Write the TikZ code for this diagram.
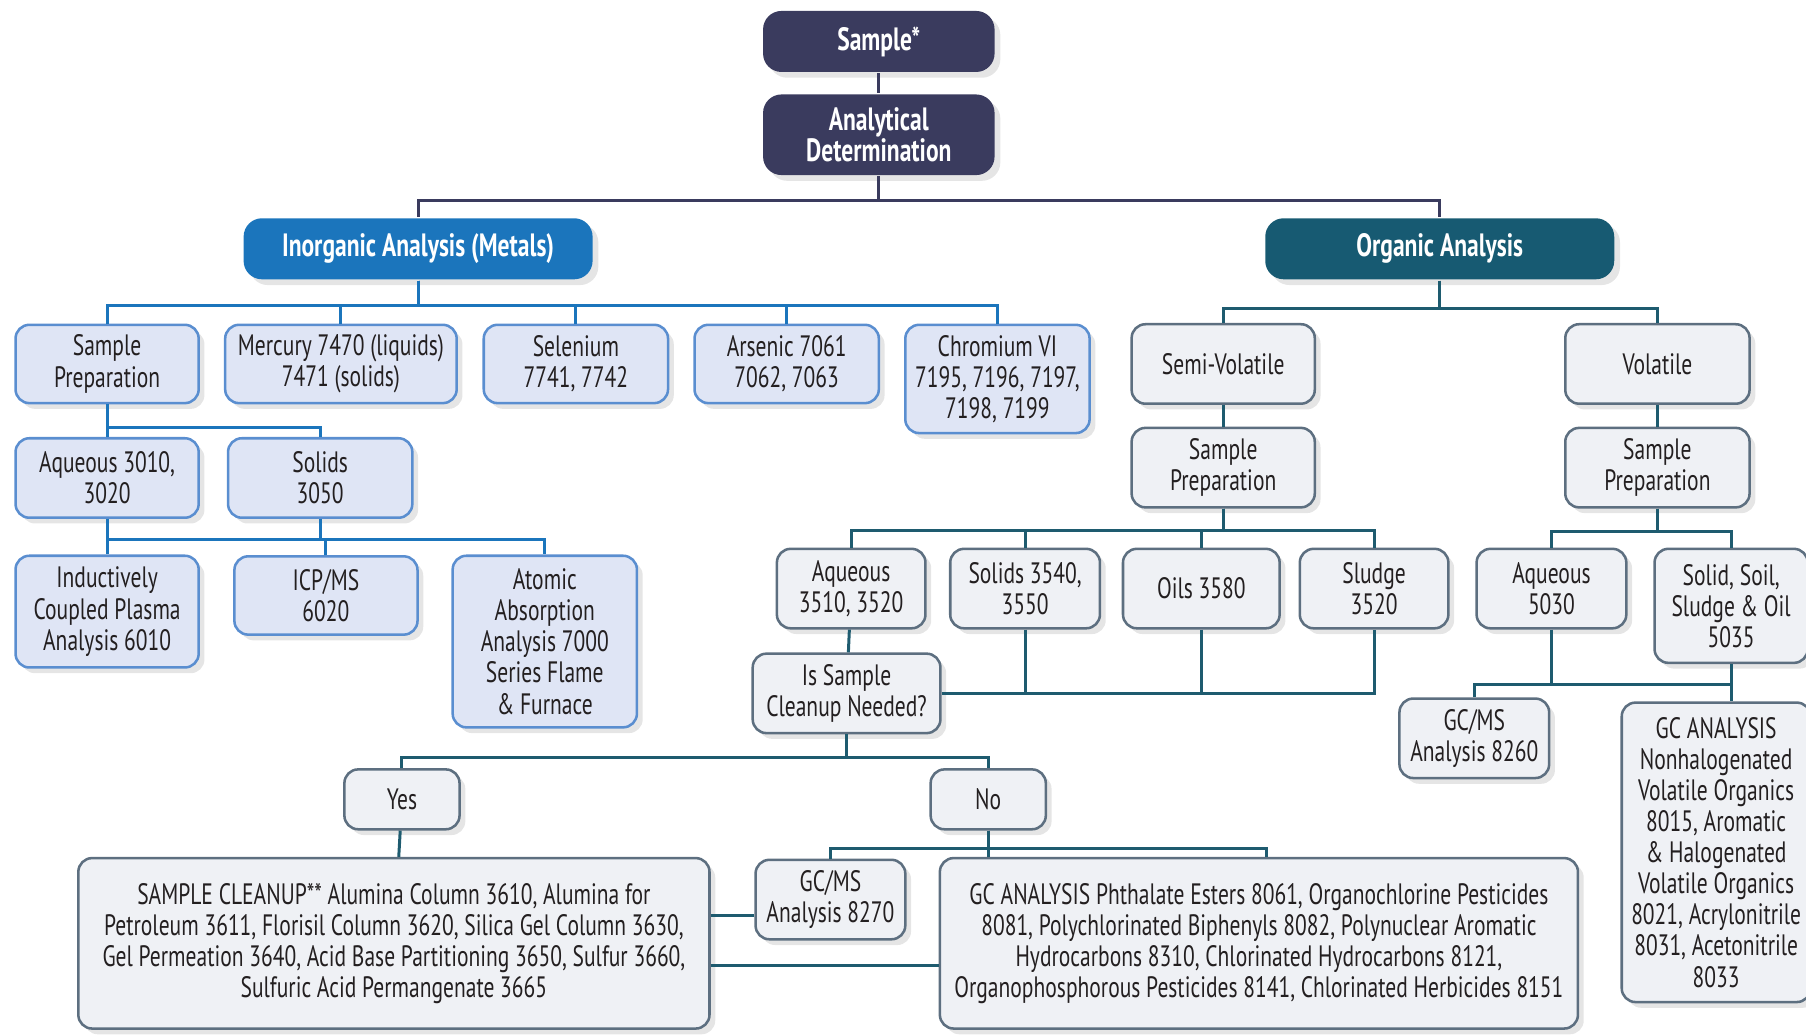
\documentclass[tikz,border=0pt]{standalone}
\usepackage{fontspec}
\setmainfont{PT Sans}[FakeStretch=0.73]
\usetikzlibrary{shadows}

\definecolor{navy}{HTML}{3A3B5E}
\definecolor{metalblue}{HTML}{1B75BC}
\definecolor{metalfill}{HTML}{DFE5F5}
\definecolor{metaledge}{HTML}{5A8ED0}
\definecolor{orgteal}{HTML}{175A72}
\definecolor{orgfill}{HTML}{EFF1F5}
\definecolor{orgedge}{HTML}{5D6F80}
\definecolor{orgline}{HTML}{1E5B6F}
\definecolor{inktext}{HTML}{231F20}

\tikzset{
  box/.style={rounded corners=6pt, line width=1.1pt, align=center, inner sep=1pt,
    font=\fontsize{12.8}{13.5}\selectfont, text=inktext,
    drop shadow={shadow xshift=2.5pt, shadow yshift=-2.5pt, fill=black!20}},
  headbox/.style={box, rounded corners=8pt, fill=#1, draw=none, text=white,
    font=\fontsize{14}{13.5}\selectfont\bfseries},
  metalbox/.style={box, fill=metalfill, draw=metaledge},
  orgbox/.style={box, fill=orgfill, draw=orgedge},
  dims/.style 2 args={minimum width=#1*0.5pt, minimum height=#2*0.5pt},
  wire/.style={line width=1.3pt, draw=#1},
}

\begin{document}
\begin{tikzpicture}[x=0.5pt, y=-0.5pt]
  \useasboundingbox (0,0) rectangle (1568,899);

  % top of the tree
  \node[headbox=navy, dims={201}{53}] (sample) at (763,36) {Sample*};
  \node[headbox=navy, dims={201}{70}] (analytical) at (763,117) {Analytical\\Determination};
  \node[headbox=metalblue, dims={303}{53}] (inorganic) at (363,216) {Inorganic Analysis (Metals)};
  \node[headbox=orgteal, dims={303}{53}] (organic) at (1250,216) {Organic Analysis};

  % inorganic branch
  \node[metalbox, dims={159}{68}] (sprep1) at (93,316) {Sample\\Preparation};
  \node[metalbox, dims={201}{68}] (mercury) at (296,316) {Mercury 7470 (liquids)\\7471 (solids)};
  \node[metalbox, dims={160}{68}] (selenium) at (500,316) {Selenium\\7741, 7742};
  \node[metalbox, dims={160}{68}] (arsenic) at (683,316) {Arsenic 7061\\7062, 7063};
  \node[metalbox, dims={160}{94}] (chromium) at (866,329) {Chromium VI\\7195, 7196, 7197,\\7198, 7199};
  \node[metalbox, dims={159}{69}] (aq1) at (93,415) {Aqueous 3010,\\3020};
  \node[metalbox, dims={160}{69}] (solids1) at (278,415) {Solids\\3050};
  \node[metalbox, dims={159}{97}] (icp) at (93,531) {Inductively\\Coupled Plasma\\Analysis 6010};
  \node[metalbox, dims={159}{68}] (icpms) at (283,517) {ICP/MS\\6020};
  \node[metalbox, dims={160}{149}] (atomic) at (473,557) {Atomic\\Absorption\\Analysis 7000\\Series Flame\\\& Furnace};

  % organic branch
  \node[orgbox, dims={159}{69}] (semivol) at (1062,316) {Semi-Volatile};
  \node[orgbox, dims={160}{69}] (volatile) at (1439,316) {Volatile};
  \node[orgbox, dims={159}{69}] (sprep2) at (1062,406) {Sample\\Preparation};
  \node[orgbox, dims={160}{69}] (sprep3) at (1439,406) {Sample\\Preparation};
  \node[orgbox, dims={129}{69}] (aq2) at (739,511) {Aqueous\\3510, 3520};
  \node[orgbox, dims={130}{69}] (solids2) at (890,511) {Solids 3540,\\3550};
  \node[orgbox, dims={136}{69}] (oils) at (1043,511) {Oils 3580};
  \node[orgbox, dims={129}{69}] (sludge) at (1193,511) {Sludge\\3520};
  \node[orgbox, dims={130}{69}] (aq3) at (1347,511) {Aqueous\\5030};
  \node[orgbox, dims={133}{99}] (solid3) at (1503,526) {Solid, Soil,\\Sludge \& Oil\\5035};
  \node[orgbox, dims={163}{69}] (cleanq) at (735,602) {Is Sample\\Cleanup Needed?};
  \node[orgbox, dims={100}{52}] (yes) at (349,694) {Yes};
  \node[orgbox, dims={100}{52}] (no) at (858,694) {No};
  \node[orgbox, dims={548}{148}] (cleanup) at (342,819) {SAMPLE CLEANUP** Alumina Column 3610, Alumina for\\Petroleum 3611, Florisil Column 3620, Silica Gel Column 3630,\\Gel Permeation 3640, Acid Base Partitioning 3650, Sulfur 3660,\\Sulfuric Acid Permangenate 3665};
  \node[orgbox, dims={130}{69}] (gcms1) at (721,781) {GC/MS\\Analysis 8270};
  \node[orgbox, dims={554}{148}] (gc1) at (1093,819) {GC ANALYSIS Phthalate Esters 8061, Organochlorine Pesticides\\8081, Polychlorinated Biphenyls 8082, Polynuclear Aromatic\\Hydrocarbons 8310, Chlorinated Hydrocarbons 8121,\\Organophosphorous Pesticides 8141, Chlorinated Herbicides 8151};
  \node[orgbox, dims={130}{69}] (gcms2) at (1280,641) {GC/MS\\Analysis 8260};
  \node[orgbox, dims={164}{260}] (gc2) at (1490,740) {GC ANALYSIS\\Nonhalogenated\\Volatile Organics\\8015, Aromatic\\\& Halogenated\\Volatile Organics\\8021, Acrylonitrile\\8031, Acetonitrile\\8033};

  % connectors
  \draw[wire=navy] (sample) -- (analytical);
  \draw[wire=navy] (analytical.south) -- ++(0,21) -| (inorganic.north);
  \draw[wire=navy] (analytical.south) -- ++(0,21) -| (organic.north);

  \foreach \n in {sprep1,mercury,selenium,arsenic,chromium}
    \draw[wire=metalblue] (inorganic.south) -- ++(0,22) -| (\n.north);
  \foreach \n in {aq1,solids1}
    \draw[wire=metalblue] (sprep1.south) -- ++(0,20) -| (\n.north);
  \foreach \n in {icp,icpms,atomic}
    \draw[wire=metalblue] (aq1.south) -- ++(0,18) -| (\n.north);
  \draw[wire=metalblue] (solids1.south) -- ++(0,18);

  \foreach \n in {semivol,volatile}
    \draw[wire=orgline] (organic.south) -- ++(0,24) -| (\n.north);
  \draw[wire=orgline] (semivol) -- (sprep2);
  \draw[wire=orgline] (volatile) -- (sprep3);
  \foreach \n in {aq2,solids2,oils,sludge}
    \draw[wire=orgline] (sprep2.south) -- ++(0,19) -| (\n.north);
  \draw[wire=orgline] (aq2) -- (cleanq);
  \draw[wire=orgline] (cleanq.east) -| (sludge.south);
  \foreach \n in {solids2,oils}
    \draw[wire=orgline] (\n.south) -- (\n.south |- cleanq.east);
  \foreach \n in {yes,no}
    \draw[wire=orgline] (cleanq.south) -- ++(0,20) -| (\n.north);
  \draw[wire=orgline] (yes) -- (cleanup);
  \draw[wire=orgline] (no.south) -- ++(0,16) -| (gcms1.north);
  \draw[wire=orgline] (no.south) -- ++(0,16) -| ([xshift=3.5pt]gc1.north);
  \draw[wire=orgline] (no.south) -- (no.south |- gc1.north);
  \coordinate (cg) at ([yshift=-7pt]gcms1.west);
  \draw[wire=orgline] (cg) -- (cg -| cleanup.east);
  \coordinate (cc) at ([yshift=-9.5pt]cleanup.east);
  \draw[wire=orgline] (cc) -- (cc -| gc1.west);

  \foreach \n in {aq3,solid3}
    \draw[wire=orgline] (sprep3.south) -- ++(0,20) -| (\n.north);
  \coordinate (vbus) at ([yshift=-9pt]solid3.south);
  \draw[wire=orgline] (gcms2.north) |- (vbus);
  \draw[wire=orgline] (aq3.south) -- (aq3.south |- vbus);
  \draw[wire=orgline] (solid3.south) -- (solid3.south |- gc2.north);
\end{tikzpicture}
\end{document}
